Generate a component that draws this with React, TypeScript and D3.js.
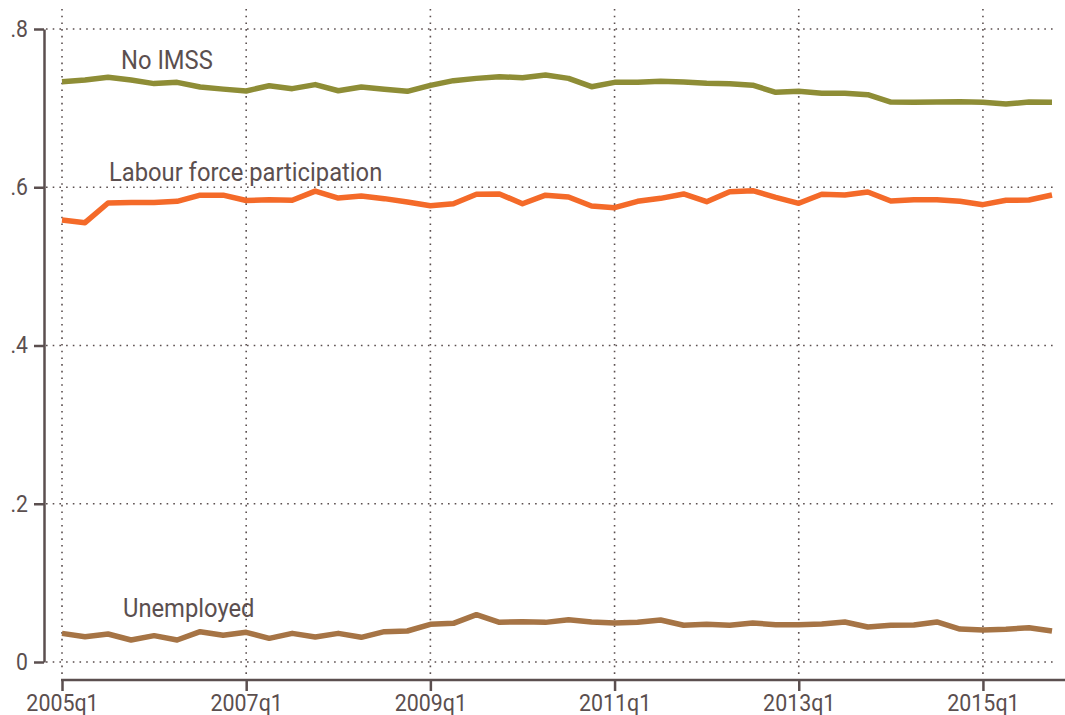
import React, { useRef, useEffect } from "react";
import * as d3 from "d3";

const quarters = [
  "2005q1", "2005q2", "2005q3", "2005q4", "2006q1", "2006q2", "2006q3", "2006q4",
  "2007q1", "2007q2", "2007q3", "2007q4", "2008q1", "2008q2", "2008q3", "2008q4",
  "2009q1", "2009q2", "2009q3", "2009q4", "2010q1", "2010q2", "2010q3", "2010q4",
  "2011q1", "2011q2", "2011q3", "2011q4", "2012q1", "2012q2", "2012q3", "2012q4",
  "2013q1", "2013q2", "2013q3", "2013q4", "2014q1", "2014q2", "2014q3", "2014q4",
  "2015q1", "2015q2", "2015q3", "2015q4",
];

const noImss = [
  0.7334, 0.7356, 0.739, 0.7355, 0.731, 0.7326, 0.7267, 0.724,
  0.7217, 0.7283, 0.7246, 0.7297, 0.722, 0.7267, 0.7238, 0.7212,
  0.7288, 0.7347, 0.7376, 0.7397, 0.7385, 0.7419, 0.7376, 0.7271,
  0.7326, 0.7326, 0.7339, 0.733, 0.7313, 0.7309, 0.729, 0.72,
  0.7212, 0.7187, 0.7187, 0.717, 0.7077, 0.7073, 0.7077, 0.708,
  0.7073, 0.7052, 0.7077, 0.7073,
];

const labourForce = [
  0.5586, 0.5552, 0.5801, 0.5808, 0.5808, 0.5822, 0.59, 0.59,
  0.5832, 0.5841, 0.5835, 0.5951, 0.5864, 0.5889, 0.5856, 0.5814,
  0.5767, 0.5792, 0.5911, 0.5915, 0.5792, 0.59, 0.5877, 0.5763,
  0.5742, 0.5822, 0.586, 0.5915, 0.5818, 0.5944, 0.5957, 0.5873,
  0.5797, 0.5911, 0.5902, 0.594, 0.5826, 0.5843, 0.5843, 0.5822,
  0.578, 0.5835, 0.5839, 0.5902,
];

const unemployed = [
  0.0362, 0.032, 0.0354, 0.0278, 0.0333, 0.0278, 0.0383, 0.0337,
  0.0375, 0.0299, 0.0362, 0.0316, 0.0362, 0.0312, 0.0383, 0.0392,
  0.0476, 0.0489, 0.0598, 0.0501, 0.051, 0.0501, 0.0535, 0.0506,
  0.0493, 0.0501, 0.0531, 0.0464, 0.0476, 0.0464, 0.0493, 0.0472,
  0.0472, 0.048, 0.0506, 0.0442, 0.0464, 0.0468, 0.0506, 0.0417,
  0.0404, 0.0413, 0.0434, 0.0392,
];

const xTicks = ["2005q1", "2007q1", "2009q1", "2011q1", "2013q1", "2015q1"];
const yTicks = [0, 0.2, 0.4, 0.6, 0.8];
const yTickLabels = ["0", ".2", ".4", ".6", ".8"];

const seriesNames = ["No IMSS", "Labour force participation", "Unemployed"];
const seriesColors = ["#8e8d36", "#f46a29", "#a67445"];

const ink = "#5b4f4f";
const font = "Roboto, 'Open Sans', sans-serif";

// the original uses a narrow face, so squeeze Roboto a bit
function condense(sel: d3.Selection<SVGTextElement, any, any, any>, k: number) {
  sel.each(function () {
    const w = this.getComputedTextLength();
    d3.select(this)
      .attr("textLength", w * k)
      .attr("lengthAdjust", "spacingAndGlyphs");
  });
}

function Chart() {
  const svgRef = useRef<SVGSVGElement>(null);

  useEffect(() => {
    const width = 1065;
    const height = 715;
    const svg = d3.select(svgRef.current);
    svg.selectAll("*").remove();
    svg.attr("width", width).attr("height", height);

    const x = d3.scalePoint<string>().domain(quarters).range([62, 1052]);
    const y = d3.scaleLinear().domain([0, 0.8]).range([662, 29]);

    // grid
    const grid = svg.append("g")
      .attr("stroke", ink)
      .attr("stroke-width", 1.6)
      .attr("stroke-dasharray", "1.6,5.1");
    grid.selectAll(".hg")
      .data(yTicks)
      .join("line")
      .attr("x1", 46).attr("x2", 1055)
      .attr("y1", d => y(d)).attr("y2", d => y(d));
    grid.selectAll(".vg")
      .data(xTicks)
      .join("line")
      .attr("x1", d => x(d)!).attr("x2", d => x(d)!)
      .attr("y1", 9).attr("y2", 676);

    // y axis
    const yAxis = d3.axisLeft(y)
      .tickValues(yTicks)
      .tickSize(10)
      .tickSizeOuter(0)
      .tickPadding(6)
      .tickFormat((d, i) => yTickLabels[i]);
    const gy = svg.append("g").attr("transform", "translate(44,0)").call(yAxis);
    gy.select(".domain").attr("stroke", ink).attr("stroke-width", 2.5);
    gy.selectAll(".tick line").attr("stroke", ink).attr("stroke-width", 2.5);
    const yLabels = gy.selectAll<SVGTextElement, unknown>(".tick text")
      .attr("fill", ink)
      .attr("font-family", font)
      .attr("font-size", 23);
    condense(yLabels, 0.92);

    // x axis
    const xAxis = d3.axisBottom(x)
      .tickValues(xTicks)
      .tickSize(11)
      .tickSizeOuter(0)
      .tickPadding(4);
    const gx = svg.append("g").attr("transform", "translate(0,680)").call(xAxis);
    gx.select(".domain").remove();
    gx.append("line")
      .attr("x1", 61).attr("x2", 1065)
      .attr("stroke", ink).attr("stroke-width", 2.5);
    gx.selectAll(".tick line").attr("stroke", ink).attr("stroke-width", 2.5);
    const xLabels = gx.selectAll<SVGTextElement, unknown>(".tick text")
      .attr("fill", ink)
      .attr("font-family", font)
      .attr("font-size", 23);
    condense(xLabels, 0.93);

    // lines
    const series = [noImss, labourForce, unemployed];
    const line = d3.line<number>()
      .x((d, i) => x(quarters[i])!)
      .y(d => y(d));
    svg.append("g")
      .selectAll("path")
      .data(series)
      .join("path")
      .attr("d", d => line(d))
      .attr("fill", "none")
      .attr("stroke", (d, i) => seriesColors[i])
      .attr("stroke-width", 5.5)
      .attr("stroke-linejoin", "round");

    // series labels
    const labelPos = [
      { x: 121, y: 69 },
      { x: 109, y: 181 },
      { x: 123, y: 617 },
    ];
    const names = svg.append("g")
      .selectAll<SVGTextElement, string>("text")
      .data(seriesNames)
      .join("text")
      .attr("x", (d, i) => labelPos[i].x)
      .attr("y", (d, i) => labelPos[i].y)
      .attr("fill", ink)
      .attr("font-family", font)
      .attr("font-size", 25)
      .text(d => d);
    condense(names, 0.95);
  }, []);

  return <svg ref={svgRef} style={{ position: "absolute", left: 0, top: 0 }} />;
}

export default function App() {
  return <Chart />;
}
